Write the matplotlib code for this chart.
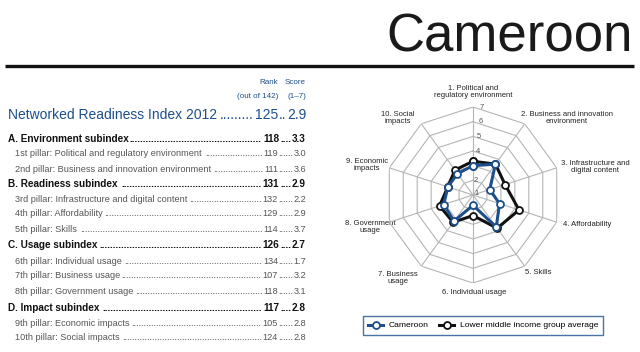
import numpy as np
import matplotlib
matplotlib.use("Agg")
import matplotlib.pyplot as plt

plt.rcParams["font.family"] = ["Liberation Sans", "DejaVu Sans"]

# --- data ---
country = "Cameroon"
nri_rank, nri_score = 125, 2.9

rows = [
    # (label, rank, score, is_subindex)
    ("A. Environment subindex", 118, 3.3, True),
    ("1st pillar: Political and regulatory environment", 119, 3.0, False),
    ("2nd pillar: Business and innovation environment", 111, 3.6, False),
    ("B. Readiness subindex", 131, 2.9, True),
    ("3rd pillar: Infrastructure and digital content", 132, 2.2, False),
    ("4th pillar: Affordability", 129, 2.9, False),
    ("5th pillar: Skills", 114, 3.7, False),
    ("C. Usage subindex", 126, 2.7, True),
    ("6th pillar: Individual usage", 134, 1.7, False),
    ("7th pillar: Business usage", 107, 3.2, False),
    ("8th pillar: Government usage", 118, 3.1, False),
    ("D. Impact subindex", 117, 2.8, True),
    ("9th pillar: Economic impacts", 105, 2.8, False),
    ("10th pillar: Social impacts", 124, 2.8, False),
]
row_y = [139, 154, 169, 184, 199, 214, 229, 245, 261, 276, 292, 308, 323, 338]

pillars = ["1. Political and\nregulatory environment",
           "2. Business and innovation\nenvironment",
           "3. Infrastructure and\ndigital content",
           "4. Affordability",
           "5. Skills",
           "6. Individual usage",
           "7. Business\nusage",
           "8. Government\nusage",
           "9. Economic\nimpacts",
           "10. Social\nimpacts"]
cameroon = [3.0, 3.6, 2.2, 2.9, 3.7, 1.7, 3.2, 3.1, 2.8, 2.8]
group_avg = [3.3, 3.6, 3.3, 4.3, 3.8, 2.4, 3.3, 3.4, 2.8, 3.1]

BLUE = "#1d4f8c"
DARK = "#222222"
GREY = "#555555"

fig = plt.figure(figsize=(6.4, 3.52), dpi=100)
bg = fig.add_axes([0, 0, 1, 1])
bg.set_xlim(0, 640)
bg.set_ylim(352, 0)
bg.axis("off")

# title and rule
bg.text(633, 52, country, ha="right", va="baseline", fontsize=38, color="#1a1a1a")
bg.plot([5, 634], [65.5, 65.5], color="#111111", lw=2.4, solid_capstyle="butt")

# headers
bg.text(278, 83, "Rank", ha="right", va="center", fontsize=5.8, color=BLUE)
bg.text(306, 83, "Score", ha="right", va="center", fontsize=5.8, color=BLUE)
bg.text(278, 96, "(out of 142)", ha="right", va="center", fontsize=5.8, color=BLUE)
bg.text(306, 96, "(1\u20137)", ha="right", va="center", fontsize=5.8, color=BLUE)

renderer = fig.canvas.get_renderer()


def width_px(t):
    return t.get_window_extent(renderer=renderer).width


def leader_row(y, label, rank, score, x0, size, color, weight, rank_x, score_x):
    tl = bg.text(x0, y, label, ha="left", va="center", fontsize=size, color=color, fontweight=weight)
    tr = bg.text(rank_x, y, str(rank), ha="right", va="center", fontsize=size, color=color, fontweight=weight)
    ts = bg.text(score_x, y, f"{score:.1f}", ha="right", va="center", fontsize=size, color=color, fontweight=weight)
    probe = bg.text(0, 0, "." * 40, fontsize=size, fontweight=weight)
    dot_w = width_px(probe) / 40
    probe.remove()
    # dots between label and rank
    start = x0 + width_px(tl) + 1
    end = rank_x - width_px(tr) - 1
    n = max(int((end - start) / dot_w), 0)
    bg.text(end, y, "." * n, ha="right", va="center", fontsize=size, color=color, fontweight=weight)
    # dots between rank and score
    start2 = rank_x + 0.5
    end2 = score_x - width_px(ts) - 0.5
    n2 = max(int(round((end2 - start2) / dot_w)), 1)
    bg.text(end2, y, "." * n2, ha="right", va="center", fontsize=size, color=color, fontweight=weight)


leader_row(115, "Networked Readiness Index 2012", nri_rank, nri_score, 8, 10, BLUE, "normal", 278, 306)
for (label, rank, score, sub), y in zip(rows, row_y):
    if sub:
        leader_row(y, label, rank, score, 8, 7.2, "#111111", "bold", 279, 306)
    else:
        leader_row(y, label, rank, score, 15, 6.6, GREY, "normal", 278, 306)

# --- radar ---
cx, cy, R = 473, 195, 88
ax = fig.add_axes([(cx - R) / 640, (352 - cy - R) / 352, 2 * R / 640, 2 * R / 352], projection="polar")
ax.set_theta_zero_location("N")
ax.set_theta_direction(-1)
ax.set_ylim(1, 7)
ax.grid(False)
ax.spines["polar"].set_visible(False)
ax.set_xticks([])
ax.set_yticks([])
ax.patch.set_alpha(0)

n = len(pillars)
theta = np.linspace(0, 2 * np.pi, n, endpoint=False)
theta_c = np.append(theta, theta[0])

for r in range(2, 8):
    ax.plot(theta_c, [r] * (n + 1), color="#b5b5b5", lw=0.8, zorder=1)
for t in theta:
    ax.plot([t, t], [1, 7], color="#b5b5b5", lw=0.8, zorder=1)
for r in range(1, 8):
    ax.text(0.07 if r > 1 else 0.6, r if r > 1 else 1.15, str(r), fontsize=5.5, color=GREY,
            ha="left", va="center", zorder=2)

cam_c = np.append(cameroon, cameroon[0])
avg_c = np.append(group_avg, group_avg[0])
l_cam, = ax.plot(theta_c, cam_c, color=BLUE, lw=2.2, marker="o", ms=5, mfc="white",
                 mec=BLUE, mew=1.3, zorder=4, label="Cameroon")
l_avg, = ax.plot(theta_c, avg_c, color="#111111", lw=2.2, marker="o", ms=5, mfc="white",
                 mec="#111111", mew=1.3, zorder=3, label="Lower middle income group average")

label_pos = [(473, 92), (567, 118), (595, 167), (587, 225), (538, 273),
             (474, 293), (398, 278), (370, 227), (367, 165), (398, 118)]
for name, (x, y) in zip(pillars, label_pos):
    bg.text(x, y, name, ha="center", va="center", fontsize=5.5, color=DARK, linespacing=1.15)

leg = fig.legend(handles=[l_cam, l_avg], loc="center", bbox_to_anchor=(483 / 640, 1 - 325.5 / 352),
                 ncol=2, fontsize=6.1, frameon=True, fancybox=False, handlelength=1.8,
                 columnspacing=1.3, handletextpad=0.6, borderpad=0.6)
leg.get_frame().set_edgecolor(BLUE)
leg.get_frame().set_linewidth(1.0)

fig.savefig("out.png", dpi=100)
